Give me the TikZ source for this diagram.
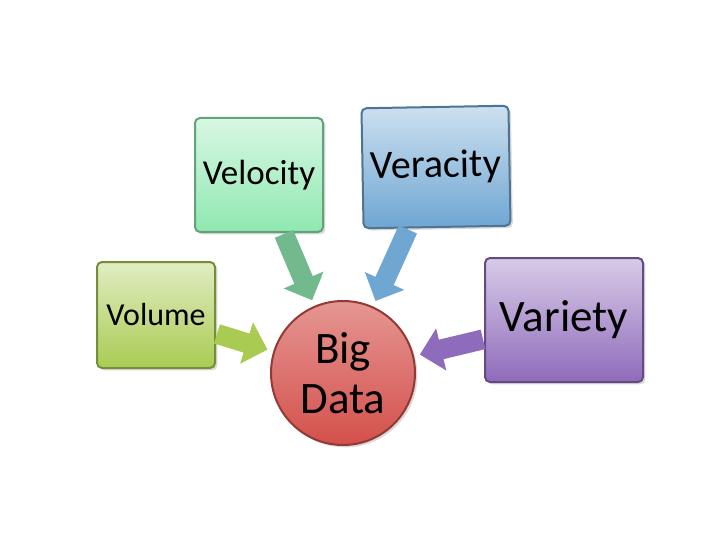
\documentclass[tikz,border=0pt]{standalone}
\usepackage{fontspec}
\setmainfont{Carlito}
\usetikzlibrary{arrows.meta,shadows}

\tikzset{
  vbox/.style={draw=#1!70!black, line width=2pt, rounded corners=5pt,
    top color=#1!35!white, bottom color=#1, drop shadow={opacity=.3},
    inner sep=0pt},
  vline/.style={#1, line width=20pt, shorten >=6pt, shorten <=1pt,
    -{Triangle[length=22pt,width=42pt]}}
}

\begin{document}
\begin{tikzpicture}[x=1pt,y=-1pt]
  \useasboundingbox (0,0) rectangle (720,540);
  \definecolor{volc}{HTML}{A9CB52}
  \definecolor{velc}{HTML}{8FE8B0}
  \definecolor{verc}{HTML}{6FA6D2}
  \definecolor{varc}{HTML}{8F6BBB}
  \definecolor{bigc}{HTML}{D4504B}

  % boxes
  \node[vbox=volc, minimum width=118, minimum height=106, font=\fontsize{32}{36}\selectfont] (vol) at (156,315) {Volume};
  \node[vbox=velc, minimum width=128, minimum height=114, font=\fontsize{35}{40}\selectfont] (vel) at (259,175) {Velocity};
  \node[vbox=verc, minimum width=147, minimum height=120, rotate=1, font=\fontsize{40}{44}\selectfont] (ver) at (436,167) {Veracity};
  \node[vbox=varc, minimum width=158, minimum height=124, font=\fontsize{45}{50}\selectfont] (var) at (564,320) {Variety};

  % centre
  \node[circle, draw=bigc!70!black, line width=2pt, minimum size=144, inner sep=0pt,
    top color=bigc!60!white, bottom color=bigc, drop shadow={opacity=.3}, align=center,
    font=\fontsize{45}{50}\selectfont] (big) at (343,373) {Big\\Data};

  % arrows
  \draw[vline=volc] (vol) -- (big);
  \draw[vline=velc!80!black] (vel) -- (big);
  \draw[vline=verc] (ver) -- (big);
  \draw[vline=varc] (var) -- (big);
\end{tikzpicture}
\end{document}
